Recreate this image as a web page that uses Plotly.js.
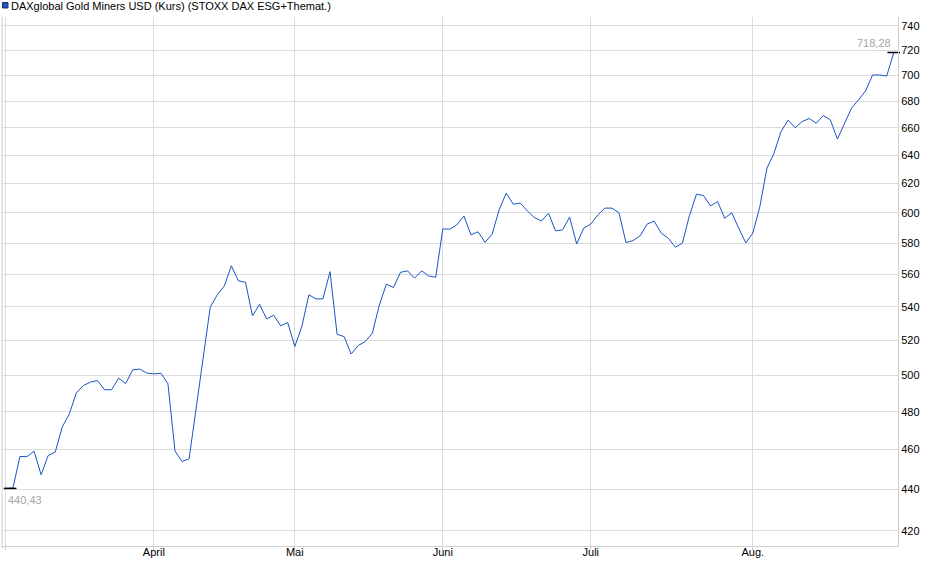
<!DOCTYPE html>
<html>
<head>
<meta charset="utf-8">
<script src="https://cdn.plot.ly/plotly-3.0.1.min.js"></script>
<style>
  html, body { margin: 0; padding: 0; background: #fff; }
  #plotter { width: 940px; height: 579px; }
</style>
</head>
<body>
<div id="plotter"></div>
<script>
// daily closes, 3 March .. 29 August (trading days)
var closes = [
    440.43, 440.6, 456.5, 456.4, 459.2, 447.2, 457.0, 458.7, 471.8, 478.8,
    490.2, 494.3, 496.2, 497.1, 492.0, 492.0, 498.4, 495.4, 503.1, 503.5,
    501.3, 500.8, 501.2, 495.3, 459.3, 453.9, 455.3, 481.0, 508.8, 539.7,
    547.3, 552.8, 565.4, 555.9, 555.1, 534.5, 541.5, 532.7, 534.9, 528.6,
    530.5, 516.4, 528.2, 547.3, 544.8, 544.8, 561.7, 523.6, 522.2, 512.1,
    517.0, 519.3, 524.2, 541.1, 553.9, 551.8, 561.3, 562.2, 557.6, 562.2,
    559.0, 558.2, 589.3, 589.1, 592.0, 597.9, 585.4, 587.4, 580.5, 585.8,
    602.0, 613.4, 605.9, 606.6, 601.3, 596.8, 594.6, 599.7, 588.0, 588.7,
    597.1, 579.4, 589.8, 592.5, 598.6, 603.2, 603.2, 600.1, 580.3, 581.6,
    584.7, 592.5, 594.5, 586.5, 583.2, 577.3, 579.9, 598.1, 612.7, 611.8,
    604.7, 607.7, 596.4, 600.1, 589.8, 580.1, 586.5, 604.3, 630.9, 641.5,
    657.3, 665.8, 660.2, 664.7, 667.0, 663.5, 669.2, 666.0, 651.8, 663.5,
    674.8, 681.1, 688.0, 700.4, 700.4, 699.6, 718.28
];
// first trading day of each month (index into closes)
var monthStart = [0, 21, 41, 62, 83, 106];
var monthLabels = ['', 'April', 'Mai', 'Juni', 'Juli', 'Aug.'];
var yTicks = [420, 440, 460, 480, 500, 520, 540, 560, 580, 600, 620, 640, 660, 680, 700, 720, 740];
var seriesName = 'DAXglobal Gold Miners USD (Kurs) (STOXX DAX ESG+Themat.)';

var days = [];
for (var i = 0; i < closes.length; i++) days.push(i);
var last = closes.length - 1;

function deNum(v) {
    return v.toFixed(2).replace('.', ',');
}

var plots = [
    {
        x: days,
        y: closes,
        type: 'scatter',
        mode: 'lines',
        line: { color: '#1a55c4', width: 1 },
        hoverinfo: 'skip',
        showlegend: false
    },
    {
        x: [0.6, last],
        y: [closes[0], closes[last]],
        type: 'scatter',
        mode: 'markers',
        marker: { symbol: 'line-ew', size: 9, line: { color: '#000', width: 1.5 } },
        hoverinfo: 'skip',
        showlegend: false,
        cliponaxis: false
    }
];

var font = { family: '"Liberation Sans", Arial, sans-serif', size: 11, color: '#000' };
var grid = '#dcdcdc';

var layout = {
    width: 940,
    height: 579,
    paper_bgcolor: '#fff',
    plot_bgcolor: '#fff',
    font: font,
    showlegend: false,
    margin: { l: 2, r: 42, t: 17, b: 33, pad: 0 },
    xaxis: {
        range: [-0.55, 126.6],
        tickmode: 'array',
        tickvals: monthStart,
        ticktext: monthLabels,
        showgrid: true,
        gridcolor: grid,
        gridwidth: 1,
        zeroline: false,
        showline: true,
        linecolor: '#cfcfcf',
        ticks: 'outside',
        ticklen: 3,
        tickcolor: '#cfcfcf',
        ticklabelstandoff: -7,
        tickfont: font
    },
    yaxis: {
        type: 'log',
        side: 'right',
        range: [2.6158, 2.8736],
        tickmode: 'array',
        tickvals: yTicks,
        ticktext: yTicks.map(String),
        showgrid: true,
        gridcolor: grid,
        gridwidth: 1,
        zeroline: false,
        showline: true,
        linecolor: '#cfcfcf',
        ticks: '',
        tickfont: font
    },
    shapes: [
        {
            type: 'line', xref: 'paper', yref: 'paper',
            x0: 0, x1: 0, y0: -0.004, y1: 1,
            line: { color: '#cfcfcf', width: 1 }
        },
        {
            type: 'rect', xref: 'paper', yref: 'paper',
            x0: 0.0006, x1: 0.0067, y0: 1.017, y1: 1.0274,
            fillcolor: '#1a55c4',
            line: { color: '#1c2f66', width: 1 }
        }
    ],
    annotations: [
        {
            xref: 'paper', yref: 'paper',
            x: 0.0078, y: 1.0215,
            xanchor: 'left', yanchor: 'middle',
            text: seriesName,
            showarrow: false,
            font: font
        },
        {
            x: last, y: Math.log10(closes[last]),
            xanchor: 'right', yanchor: 'bottom',
            xshift: -1, yshift: 2,
            text: deNum(closes[last]),
            showarrow: false,
            font: { family: font.family, size: 11, color: '#a6a6a6' }
        },
        {
            x: 0, y: Math.log10(closes[0]),
            xanchor: 'left', yanchor: 'top',
            xshift: 0, yshift: -4,
            text: deNum(closes[0]),
            showarrow: false,
            font: { family: font.family, size: 11, color: '#a6a6a6' }
        }
    ]
};

Plotly.newPlot('plotter', plots, layout, { staticPlot: true, displayModeBar: false });
</script>
</body>
</html>
